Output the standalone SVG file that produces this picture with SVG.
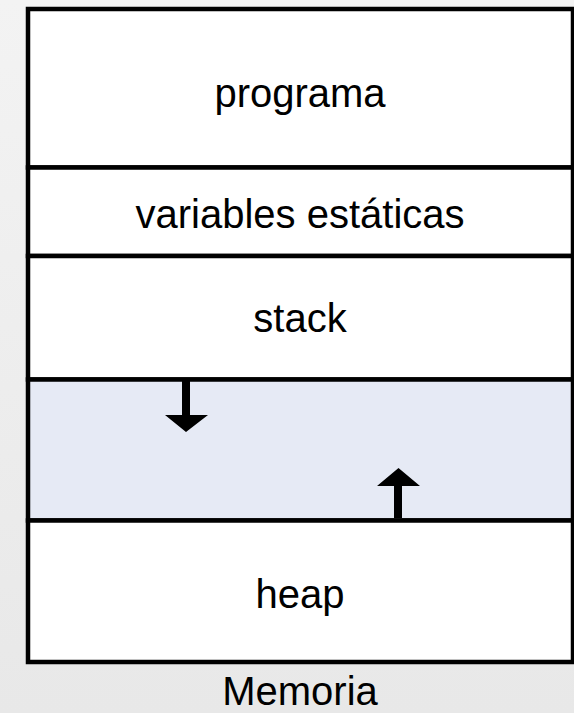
<svg xmlns="http://www.w3.org/2000/svg" width="574" height="713" viewBox="0 0 574 713">
  <defs>
    <linearGradient id="bg" x1="0" y1="0" x2="0" y2="1">
      <stop offset="0" stop-color="#f3f3f3"/>
      <stop offset="1" stop-color="#e8e8e8"/>
    </linearGradient>
  </defs>
  <style>
    .seg { fill: #ffffff; stroke: #000000; stroke-width: 4.5; }
    .free { fill: #e6eaf5; stroke: #000000; stroke-width: 4.5; }
    .lbl { font-family: "Liberation Sans", Arial, sans-serif; font-size: 40px; fill: #000000; text-anchor: middle; }
    .arrow { fill: #000000; stroke: none; }
  </style>

  <rect x="0" y="0" width="574" height="713" fill="url(#bg)"/>

  <!-- memory segments, top to bottom -->
  <g id="programa">
    <rect class="seg" x="28" y="9" width="545" height="158.5"/>
    <text class="lbl" x="300" y="107">programa</text>
  </g>
  <g id="variables">
    <rect class="seg" x="28" y="167.5" width="545" height="88.5"/>
    <text class="lbl" x="300" y="228">variables estáticas</text>
  </g>
  <g id="stack">
    <rect class="seg" x="28" y="256" width="545" height="123.5"/>
    <text class="lbl" x="300" y="332">stack</text>
  </g>
  <g id="libre">
    <rect class="free" x="28" y="379.5" width="545" height="141"/>
  </g>
  <g id="heap">
    <rect class="seg" x="28" y="520.5" width="545" height="141.5"/>
    <text class="lbl" x="300" y="608">heap</text>
  </g>

  <!-- growth directions of stack and heap -->
  <g id="connectors">
    <path class="arrow" d="M182 381 H190 V415 H208 L186 432 L165 415 H182 Z"/>
    <path class="arrow" d="M394 518 V486 H377 L398.5 468 L420 486 H402 V518 Z"/>
  </g>

  <text class="lbl" x="300" y="705">Memoria</text>
</svg>
